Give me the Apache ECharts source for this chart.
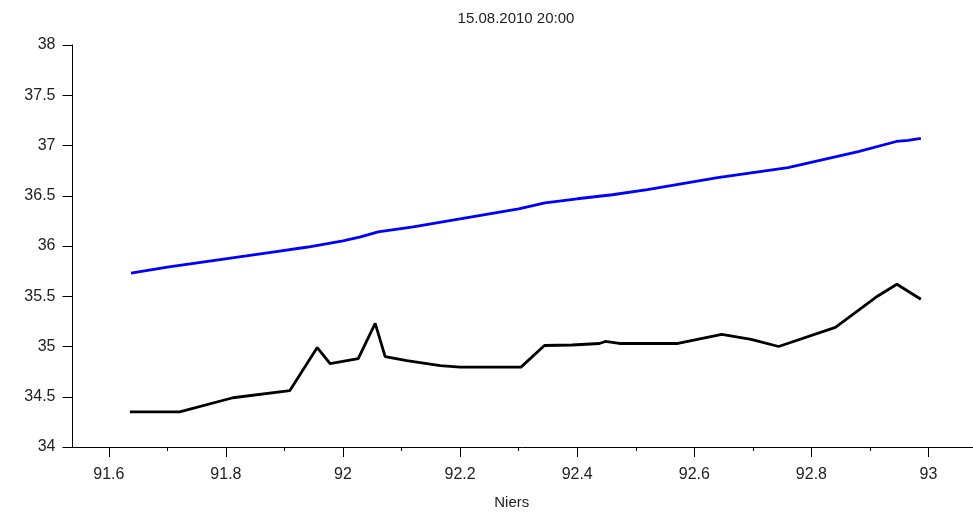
<!DOCTYPE html>
<html>
<head>
<meta charset="utf-8">
<script src="https://cdn.jsdelivr.net/npm/echarts@6/dist/echarts.min.js"></script>
<style>
html,body{margin:0;padding:0;background:#fff;}
#chart{width:973px;height:515px;}
</style>
</head>
<body>
<div id="chart"></div>
<script>
const titleText = "15.08.2010 20:00";
const xAxisName = "Niers";
const xMajorTicks = [91.6, 91.8, 92.0, 92.2, 92.4, 92.6, 92.8, 93.0];
const xMinorTicks = [91.7, 91.9, 92.1, 92.3, 92.5, 92.7, 92.9];

const xBlue = [91.638, 91.70, 91.76, 91.82, 91.88, 91.94, 92.00, 92.03, 92.06, 92.12, 92.18, 92.24, 92.30, 92.345, 92.40, 92.46, 92.52, 92.58, 92.64, 92.70, 92.76, 92.82, 92.88, 92.945, 92.965, 92.987];
const yBlue = [35.73, 35.79, 35.84, 35.89, 35.94, 35.99, 36.05, 36.09, 36.14, 36.19, 36.25, 36.31, 36.37, 36.43, 36.47, 36.51, 36.56, 36.62, 36.68, 36.73, 36.78, 36.86, 36.94, 37.04, 37.05, 37.07];

const xBlack = [91.636, 91.721, 91.812, 91.909, 91.956, 91.978, 92.026, 92.055, 92.072, 92.109, 92.166, 92.2, 92.304, 92.344, 92.391, 92.438, 92.448, 92.472, 92.572, 92.647, 92.697, 92.744, 92.841, 92.91, 92.946, 92.987];
const yBlack = [34.35, 34.35, 34.49, 34.56, 34.99, 34.83, 34.88, 35.23, 34.90, 34.86, 34.81, 34.795, 34.795, 35.01, 35.015, 35.03, 35.05, 35.03, 35.03, 35.12, 35.07, 35.00, 35.19, 35.49, 35.62, 35.47];

const pair = (xs, ys) => xs.map((x, i) => [x, ys[i]]);
const FONT = "Liberation Sans";
const TXT = '#222';
const XMIN = 91.538, XMAX = 93.076;

const chart = echarts.init(document.getElementById('chart'));
chart.setOption({
  animation: false,
  backgroundColor: '#fff',
  title: {
    text: titleText, left: 511, top: 6, textAlign: 'center',
    textStyle: { fontFamily: FONT, fontSize: 15, fontWeight: 'normal', color: TXT }
  },
  grid: { left: 72.5, right: 0, top: 45, bottom: 63.5, containLabel: false },
  xAxis: [
    {
      type: 'value', min: XMIN, max: XMAX,
      name: xAxisName, nameLocation: 'middle', nameGap: 48,
      nameTextStyle: { fontFamily: FONT, fontSize: 15, color: TXT, padding: [0, 0, 0, -22] },
      axisLine: { show: true, onZero: false, lineStyle: { color: '#000', width: 1 } },
      axisTick: { show: true, inside: false, length: 10, lineStyle: { color: '#000' }, customValues: xMajorTicks },
      axisLabel: { show: true, margin: 20, fontFamily: FONT, fontSize: 16, color: TXT, customValues: xMajorTicks,
        formatter: v => String(+v.toFixed(1)) },
      splitLine: { show: false }
    },
    {
      type: 'value', min: XMIN, max: XMAX, position: 'bottom', gridIndex: 0,
      axisLine: { show: false, onZero: false },
      axisTick: { show: true, inside: false, length: 4, lineStyle: { color: '#000' }, customValues: xMinorTicks },
      axisLabel: { show: false },
      splitLine: { show: false }
    }
  ],
  yAxis: {
    type: 'value', min: 34, max: 38, interval: 0.5,
    axisLine: { show: true, onZero: false, lineStyle: { color: '#000', width: 1 } },
    axisTick: { show: true, inside: false, length: 10, lineStyle: { color: '#000' } },
    axisLabel: { margin: 17, fontFamily: FONT, fontSize: 16, color: TXT },
    splitLine: { show: false }
  },
  series: [
    {
      type: 'line', data: pair(xBlue, yBlue), showSymbol: false, symbol: 'none',
      lineStyle: { color: '#0000ff', width: 2.8 }, z: 3
    },
    {
      type: 'line', data: pair(xBlack, yBlack), showSymbol: false, symbol: 'none',
      lineStyle: { color: '#000000', width: 2.8 }, z: 3
    }
  ]
});
</script>
</body>
</html>
